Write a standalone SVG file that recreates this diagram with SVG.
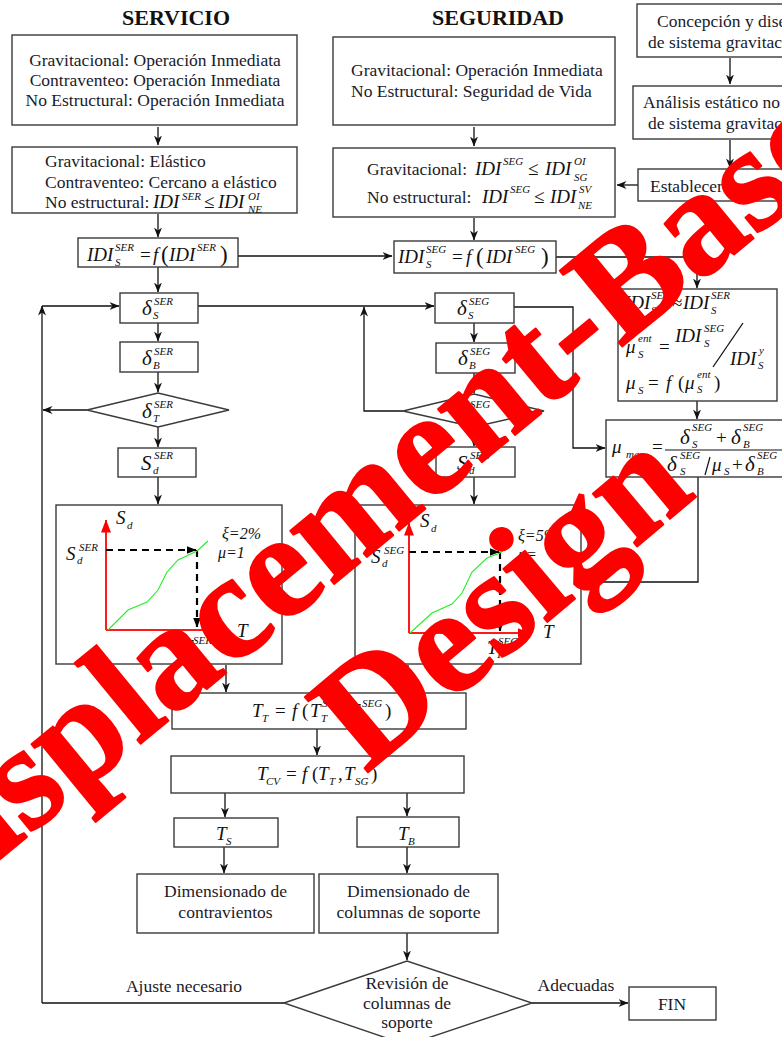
<svg xmlns="http://www.w3.org/2000/svg" width="782" height="1037" viewBox="0 0 782 1037">
<defs>
<marker id="ah" markerWidth="10" markerHeight="8" refX="9.5" refY="4" orient="auto" markerUnits="userSpaceOnUse"><path d="M0,0 L10,4 L0,8 L3,4 z" fill="#111"/></marker>
<marker id="ahd" markerWidth="10" markerHeight="8" refX="9.5" refY="4" orient="auto" markerUnits="userSpaceOnUse"><path d="M0,0 L10,4 L0,8 z" fill="#000"/></marker>
<marker id="ahr" markerWidth="13" markerHeight="10" refX="12.5" refY="5" orient="auto" markerUnits="userSpaceOnUse"><path d="M0,0 L13,5 L0,10 z" fill="#ff0000"/></marker>
<style>
.box{fill:#fff;stroke:#3a3a3a;stroke-width:1.4}
.ln{fill:none;stroke:#111;stroke-width:1.3}
.arr{marker-end:url(#ah)}
.ax{fill:none;stroke:#ff1a1a;stroke-width:2;marker-end:url(#ahr)}
.dash{fill:none;stroke:#000;stroke-width:2.2;stroke-dasharray:7 5;marker-end:url(#ahd)}
.cur{fill:none;stroke:#22ee22;stroke-width:1.1}
.t{font-family:"Liberation Serif",serif;font-size:17.5px;fill:#1a1a2a}
.h{font-family:"Liberation Serif",serif;font-size:22px;font-weight:bold;fill:#111}
.mi{font-family:"Liberation Serif",serif;font-style:italic;font-size:19px;fill:#111}
.mo{font-style:normal}
.sc{font-size:11px}
.big{font-size:23px;font-style:normal}
.lab{font-size:16px}
.wm{font-family:"Liberation Serif",serif;font-weight:bold;font-size:150px;fill:#ff0000;stroke:#ff0000;stroke-width:2;stroke-linejoin:round}
</style>
</defs>
<rect width="782" height="1037" fill="#fff"/>

<g id="headers">
<text class="h" x="176" y="25" text-anchor="middle">SERVICIO</text>
<text class="h" x="498" y="25" text-anchor="middle">SEGURIDAD</text>
</g>

<g id="connectors">
<path class="ln arr" d="M158,127 V145"/>
<path class="ln arr" d="M158,214 V237"/>
<path class="ln arr" d="M238,256 H392"/>
<path class="ln arr" d="M158,267 V292"/>
<path class="ln arr" d="M474,127 V146"/>
<path class="ln arr" d="M474,218 V240"/>
<path class="ln arr" d="M556,257 H697 V288"/>
<path class="ln arr" d="M730,58 V84"/>
<path class="ln arr" d="M730,140 V168"/>
<path class="ln arr" d="M638,185 H617"/>
<path class="ln arr" d="M42,1003 V306"/>
<path class="ln arr" d="M42,306 H119"/>
<path class="ln arr" d="M198,306 H434"/>
<path class="ln arr" d="M403,411 H364 V307"/>
<path class="ln arr" d="M158,323 V341"/>
<path class="ln arr" d="M158,372 V392"/>
<path class="ln arr" d="M87,410 H43"/>
<path class="ln arr" d="M158,427 V447"/>
<path class="ln arr" d="M158,477 V504"/>
<path class="ln arr" d="M474,323 V342"/>
<path class="ln arr" d="M474,373 V393"/>
<path class="ln arr" d="M474,427 V446"/>
<path class="ln arr" d="M474,477 V504"/>
<path class="ln arr" d="M514,307 H573 V448 H605"/>
<path class="ln arr" d="M697,401 V419"/>
<path class="ln" d="M698,477 V582 H581"/>
<path class="ln arr" d="M226,665 V692"/>
<path class="ln arr" d="M408,665 V692"/>
<path class="ln arr" d="M317,729 V755"/>
<path class="ln arr" d="M225,793 V817"/>
<path class="ln arr" d="M407,793 V816"/>
<path class="ln arr" d="M224,847 V873"/>
<path class="ln arr" d="M407,847 V873"/>
<path class="ln arr" d="M407,933 V960"/>
<path class="ln" d="M284,1003 H42"/>
<path class="ln arr" d="M532,1003 H628"/>
<text class="t" x="184" y="992" text-anchor="middle">Ajuste necesario</text>
<text class="t" x="576" y="991" text-anchor="middle">Adecuadas</text>
</g>

<g id="ser-objetivos">
<rect class="box" x="12" y="35" width="285" height="90"/>
<text class="t" x="155" y="66" text-anchor="middle">Gravitacional: Operación Inmediata</text>
<text class="t" x="155" y="86" text-anchor="middle">Contraventeo: Operación Inmediata</text>
<text class="t" x="155" y="106" text-anchor="middle">No Estructural: Operación Inmediata</text>
</g>

<g id="ser-criterios">
<rect class="box" x="12" y="147" width="285" height="66"/>
<text class="t" x="45" y="167">Gravitacional: Elástico</text>
<text class="t" x="45" y="188">Contraventeo: Cercano a elástico</text>
<text class="t" x="45" y="208">No estructural:</text>
<text class="mi"><tspan x="153" y="208">IDI</tspan><tspan class="sc" x="182" y="200">SER</tspan><tspan class="mo" x="204" y="208">≤</tspan><tspan x="218" y="208">IDI</tspan><tspan class="sc" x="248" y="200">OI</tspan><tspan class="sc" x="248" y="213">NE</tspan></text>
</g>

<g id="ser-idis">
<rect class="box" x="78" y="238" width="160" height="29"/>
<text class="mi"><tspan x="87" y="261">IDI</tspan><tspan class="sc" x="115" y="251">SER</tspan><tspan class="sc" x="115" y="266">S</tspan><tspan class="mo" x="140" y="261">=</tspan><tspan x="153" y="261">f</tspan><tspan class="big" x="161" y="262">(</tspan><tspan x="169" y="261">IDI</tspan><tspan class="sc" x="197" y="251">SER</tspan><tspan class="big" x="220" y="262">)</tspan></text>
</g>

<g id="seg-objetivos">
<rect class="box" x="333" y="37" width="282" height="88"/>
<text class="t" x="351" y="76">Gravitacional: Operación Inmediata</text>
<text class="t" x="351" y="97">No Estructural: Seguridad de Vida</text>
</g>

<g id="seg-criterios">
<rect class="box" x="333" y="148" width="282" height="69"/>
<text class="t" x="367" y="175">Gravitacional:</text>
<text class="mi"><tspan x="475" y="175">IDI</tspan><tspan class="sc" x="503" y="165">SEG</tspan><tspan class="mo" x="528" y="175">≤</tspan><tspan x="545" y="175">IDI</tspan><tspan class="sc" x="574" y="165">OI</tspan><tspan class="sc" x="574" y="181">SG</tspan></text>
<text class="t" x="367" y="203">No estructural:</text>
<text class="mi"><tspan x="482" y="203">IDI</tspan><tspan class="sc" x="510" y="193">SEG</tspan><tspan class="mo" x="534" y="203">≤</tspan><tspan x="550" y="203">IDI</tspan><tspan class="sc" x="579" y="193">SV</tspan><tspan class="sc" x="578" y="209">NE</tspan></text>
</g>

<g id="seg-idis">
<rect class="box" x="394" y="241" width="162" height="32"/>
<text class="mi"><tspan x="398" y="263">IDI</tspan><tspan class="sc" x="426" y="253">SEG</tspan><tspan class="sc" x="426" y="268">S</tspan><tspan class="mo" x="452" y="263">=</tspan><tspan x="466" y="263">f</tspan><tspan class="big" x="476" y="264">(</tspan><tspan x="486" y="263">IDI</tspan><tspan class="sc" x="515" y="253">SEG</tspan><tspan class="big" x="541" y="264">)</tspan></text>
</g>

<g id="concepcion">
<rect class="box" x="637" y="4" width="160" height="53"/>
<text class="t" x="657" y="27">Concepción y diseño</text>
<text class="t" x="648" y="48">de sistema gravitacional</text>
</g>

<g id="analisis">
<rect class="box" x="633" y="86" width="165" height="53"/>
<text class="t" x="643" y="108">Análisis estático no lineal</text>
<text class="t" x="648" y="129">de sistema gravitacional</text>
</g>

<g id="establecer">
<rect class="box" x="638" y="169" width="160" height="32"/>
<text class="t" x="650" y="192">Establecer</text>
</g>

<g id="ser-ds">
<rect class="box" x="120" y="293" width="78" height="30"/>
<text class="mi"><tspan x="142" y="315" font-size="21">δ</tspan><tspan class="sc" x="154" y="305">SER</tspan><tspan class="sc" x="153" y="319">S</tspan></text>
</g>
<g id="ser-db">
<rect class="box" x="120" y="342" width="78" height="30"/>
<text class="mi"><tspan x="142" y="365" font-size="21">δ</tspan><tspan class="sc" x="154" y="355">SER</tspan><tspan class="sc" x="153" y="369">B</tspan></text>
</g>
<g id="ser-dt">
<path class="box" d="M87,410 L158,393 L229,410 L158,427 Z"/>
<text class="mi"><tspan x="142" y="418" font-size="21">δ</tspan><tspan class="sc" x="154" y="408">SER</tspan><tspan class="sc" x="153" y="422">T</tspan></text>
</g>
<g id="ser-sd">
<rect class="box" x="118" y="448" width="78" height="29"/>
<text class="mi"><tspan x="141" y="470" font-size="21">S</tspan><tspan class="sc" x="154" y="459">SER</tspan><tspan class="sc" x="153" y="474">d</tspan></text>
</g>

<g id="ser-espectro">
<rect class="box" x="56" y="505" width="226" height="159"/>
<path class="ax" d="M106,630 V520"/>
<path class="ax" d="M106,630 H227"/>
<path class="dash" d="M106,550 H196"/>
<path class="dash" d="M197,550 V627"/>
<polyline class="cur" points="108,630 128,610 147,602 158,590 167,572 178,560 197,551 208,541"/>
<text class="mi" font-size="17"><tspan x="116" y="524">S</tspan><tspan class="sc" x="127" y="529">d</tspan></text>
<text class="mi"><tspan x="66" y="560">S</tspan><tspan class="sc" x="79" y="551">SER</tspan><tspan class="sc" x="77" y="564">d</tspan></text>
<text class="mi lab" x="222" y="539">ξ=2%</text>
<text class="mi lab" x="218" y="558">μ=1</text>
<text class="mi" font-size="17" x="237" y="637">T</text>
<text class="mi" font-size="17"><tspan x="182" y="653">T</tspan><tspan class="sc" x="191" y="657">T</tspan><tspan class="sc" x="193" y="644">SER</tspan></text>
</g>

<g id="seg-ds">
<rect class="box" x="435" y="293" width="79" height="30"/>
<text class="mi"><tspan x="457" y="315" font-size="21">δ</tspan><tspan class="sc" x="469" y="305">SEG</tspan><tspan class="sc" x="468" y="319">S</tspan></text>
</g>
<g id="seg-db">
<rect class="box" x="436" y="343" width="79" height="30"/>
<text class="mi"><tspan x="458" y="365" font-size="21">δ</tspan><tspan class="sc" x="470" y="355">SEG</tspan><tspan class="sc" x="469" y="369">B</tspan></text>
</g>
<g id="seg-dt">
<path class="box" d="M403,411 L474,394 L544,411 L474,427 Z"/>
<text class="mi"><tspan x="458" y="418" font-size="21">δ</tspan><tspan class="sc" x="470" y="408">SEG</tspan><tspan class="sc" x="469" y="422">T</tspan></text>
</g>
<g id="seg-sd">
<rect class="box" x="436" y="447" width="79" height="30"/>
<text class="mi"><tspan x="457" y="470" font-size="21">S</tspan><tspan class="sc" x="470" y="459">SEG</tspan><tspan class="sc" x="469" y="474">d</tspan></text>
</g>

<g id="seg-espectro">
<rect class="box" x="355" y="505" width="226" height="159"/>
<path class="ax" d="M409,633 V523"/>
<path class="ax" d="M409,633 H530"/>
<path class="dash" d="M409,552 H499"/>
<path class="dash" d="M500,552 V631"/>
<polyline class="cur" points="410,633 432,613 452,604 462,593 472,572 487,558 500,553 512,543"/>
<text class="mi" font-size="17"><tspan x="420" y="527">S</tspan><tspan class="sc" x="431" y="532">d</tspan></text>
<text class="mi"><tspan x="371" y="563">S</tspan><tspan class="sc" x="384" y="554">SEG</tspan><tspan class="sc" x="382" y="567">d</tspan></text>
<text class="mi lab" x="518" y="541">ξ=5%</text>
<text class="mi lab" x="518" y="560">μ=</text>
<text class="mi" font-size="17" x="543" y="638">T</text>
<text class="mi" font-size="17"><tspan x="487" y="654">T</tspan><tspan class="sc" x="496" y="658">T</tspan><tspan class="sc" x="498" y="645">SEG</tspan></text>
</g>

<g id="idi-aprox">
<rect class="box" x="618" y="289" width="159" height="112"/>
<text class="mi"><tspan x="624" y="309">IDI</tspan><tspan class="sc" x="651" y="299">SEG</tspan><tspan class="sc" x="651" y="314">S</tspan><tspan class="mo" x="672" y="309">≈</tspan><tspan x="683" y="309">IDI</tspan><tspan class="sc" x="711" y="299">SER</tspan><tspan class="sc" x="711" y="314">S</tspan></text>
<text class="mi"><tspan x="626" y="353">μ</tspan><tspan class="sc" x="638" y="342">ent</tspan><tspan class="sc" x="638" y="358">S</tspan><tspan class="mo" x="659" y="353">=</tspan><tspan x="675" y="342">IDI</tspan><tspan class="sc" x="704" y="332">SEG</tspan><tspan class="sc" x="704" y="347">S</tspan><tspan x="730" y="365">IDI</tspan><tspan class="sc" x="759" y="354">y</tspan><tspan class="sc" x="758" y="369">S</tspan></text>
<path class="ln" d="M743,323 L713,367"/>
<text class="mi"><tspan x="626" y="389">μ</tspan><tspan class="sc" x="638" y="394">S</tspan><tspan class="mo" x="648" y="389">=</tspan><tspan x="666" y="389">f</tspan><tspan class="mo" x="678" y="389">(</tspan><tspan x="685" y="389">μ</tspan><tspan class="sc" x="697" y="378">ent</tspan><tspan class="sc" x="697" y="393">S</tspan><tspan class="mo" x="714" y="389">)</tspan></text>
</g>

<g id="mu-max">
<rect class="box" x="606" y="420" width="190" height="57"/>
<text class="mi"><tspan x="612" y="453">μ</tspan><tspan class="sc" x="626" y="458">max</tspan><tspan class="mo" x="652" y="453">=</tspan></text>
<text class="mi"><tspan x="680" y="444" font-size="21">δ</tspan><tspan class="sc" x="692" y="431">SEG</tspan><tspan class="sc" x="692" y="448">S</tspan><tspan class="mo" x="716" y="444">+</tspan><tspan x="731" y="444" font-size="21">δ</tspan><tspan class="sc" x="743" y="431">SEG</tspan><tspan class="sc" x="743" y="448">B</tspan></text>
<path d="M665,450 H782" stroke="#111" stroke-width="1.2"/>
<text class="mi"><tspan x="667" y="471" font-size="21">δ</tspan><tspan class="sc" x="680" y="459">SEG</tspan><tspan class="sc" x="680" y="475">S</tspan><tspan x="712" y="471">μ</tspan><tspan class="sc" x="724" y="475">S</tspan><tspan class="mo" x="732" y="471">+</tspan><tspan x="745" y="471" font-size="21">δ</tspan><tspan class="sc" x="757" y="459">SEG</tspan><tspan class="sc" x="757" y="475">B</tspan></text>
<path d="M710,457 L705,475" stroke="#111" stroke-width="1.2"/>
</g>

<g id="tt">
<rect class="box" x="172" y="693" width="294" height="36"/>
<text class="mi"><tspan x="252" y="717">T</tspan><tspan class="sc" x="262" y="722">T</tspan><tspan class="mo" x="275" y="717">=</tspan><tspan x="292" y="717">f</tspan><tspan class="mo" x="302" y="717">(</tspan><tspan x="310" y="717">T</tspan><tspan class="sc" x="321" y="722">T</tspan><tspan class="sc" x="322" y="707">SER</tspan><tspan class="mo" x="342" y="717">,</tspan><tspan x="349" y="717">T</tspan><tspan class="sc" x="360" y="722">T</tspan><tspan class="sc" x="362" y="707">SEG</tspan><tspan class="mo" x="385" y="717">)</tspan></text>
</g>

<g id="tcv">
<rect class="box" x="171" y="756" width="293" height="37"/>
<text class="mi"><tspan x="257" y="780">T</tspan><tspan class="sc" x="266" y="785">CV</tspan><tspan class="mo" x="286" y="780">=</tspan><tspan x="302" y="780">f</tspan><tspan class="mo" x="312" y="780">(</tspan><tspan x="318" y="780">T</tspan><tspan class="sc" x="329" y="785">T</tspan><tspan class="mo" x="338" y="780">,</tspan><tspan x="344" y="780">T</tspan><tspan class="sc" x="355" y="785">SG</tspan><tspan class="mo" x="371" y="780">)</tspan></text>
</g>

<g id="ts">
<rect class="box" x="174" y="818" width="104" height="29"/>
<text class="mi"><tspan x="216" y="840">T</tspan><tspan class="sc" x="226" y="845">S</tspan></text>
</g>
<g id="tb">
<rect class="box" x="357" y="817" width="102" height="30"/>
<text class="mi"><tspan x="398" y="840">T</tspan><tspan class="sc" x="408" y="845">B</tspan></text>
</g>

<g id="dim-contravientos">
<rect class="box" x="137" y="874" width="177" height="59"/>
<text class="t" x="225.5" y="897" text-anchor="middle">Dimensionado de</text>
<text class="t" x="225.5" y="918" text-anchor="middle">contravientos</text>
</g>
<g id="dim-columnas">
<rect class="box" x="319" y="874" width="179" height="59"/>
<text class="t" x="408.5" y="897" text-anchor="middle">Dimensionado de</text>
<text class="t" x="408.5" y="918" text-anchor="middle">columnas de soporte</text>
</g>

<g id="revision">
<path class="box" d="M284,1003 L407,961 L532,1003 L407,1045 Z"/>
<text class="t" x="407" y="989" text-anchor="middle">Revisión de</text>
<text class="t" x="407" y="1009" text-anchor="middle">columnas de</text>
<text class="t" x="407" y="1028" text-anchor="middle">soporte</text>
</g>

<g id="fin">
<rect class="box" x="629" y="987" width="87" height="33"/>
<text class="t" x="672" y="1010" text-anchor="middle">FIN</text>
</g>

<g id="watermark">
<text class="wm" transform="translate(-87,931) rotate(-39.5)">Displacement-Based</text>
<text class="wm" transform="translate(366,774) rotate(-40)">Design</text>
</g>
</svg>
